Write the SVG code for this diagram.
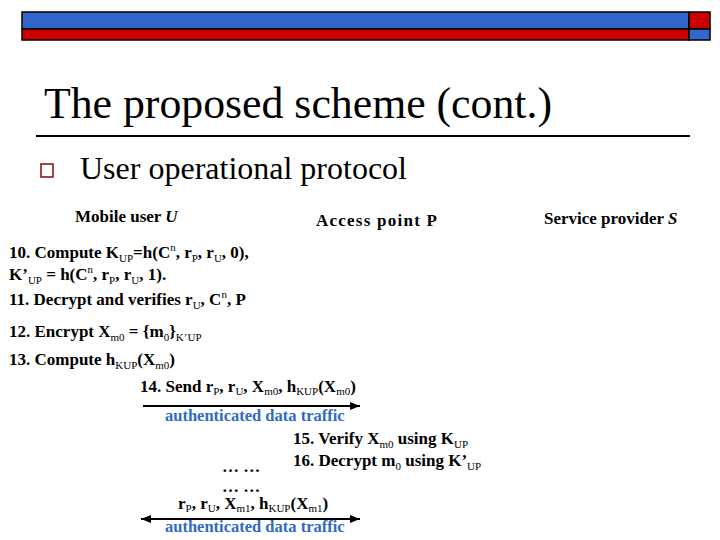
<svg xmlns="http://www.w3.org/2000/svg" width="720" height="540" viewBox="0 0 720 540">
<style>
text{font-family:"Liberation Serif","Times New Roman",serif;fill:#000}
.step{font-size:17px;font-weight:bold}
.head{font-size:17px;font-weight:bold}
.sub{font-size:11px;font-weight:normal}
.blue{fill:#2F6BC4;font-size:16.5px;font-weight:bold}
.bar{stroke:#000;stroke-width:1.5}
.conn{stroke:#000;stroke-width:2;fill:none}
</style>
<defs>
<marker id="ah" markerUnits="userSpaceOnUse" markerWidth="10" markerHeight="8" refX="10" refY="4" orient="auto-start-reverse">
<path d="M0,0 L10,4 L0,8 z" fill="#000"/>
</marker>
</defs>
<rect width="720" height="540" fill="#fff"/>
<g id="header">
<rect class="bar" x="22" y="12" width="667" height="17" fill="#3366CC"/>
<rect class="bar" x="689" y="12" width="21" height="17" fill="#CC0000"/>
<rect class="bar" x="22" y="29" width="667" height="11" fill="#CC0000"/>
<rect class="bar" x="689" y="29" width="21" height="11" fill="#3366CC"/>
</g>
<g id="title">
<text x="44" y="118" font-size="44" textLength="508" lengthAdjust="spacingAndGlyphs">The proposed scheme (cont.)</text>
<line x1="36" y1="136" x2="690" y2="136" stroke="#000" stroke-width="2"/>
</g>
<g id="bullet">
<rect x="41" y="164" width="12" height="13" fill="#fff" stroke="#8B1A1A" stroke-width="1.6"/>
<text x="80" y="179" font-size="32">User operational protocol</text>
</g>
<g id="party-user"><text class="head" x="75" y="222">Mobile user <tspan font-style="italic">U</tspan></text></g>
<g id="party-ap"><text class="head" x="316" y="226" font-size="18" textLength="121" lengthAdjust="spacing">Access point P</text></g>
<g id="party-sp"><text class="head" x="544" y="224">Service provider <tspan font-style="italic">S</tspan></text></g>
<g id="steps-user">
<text class="step" x="9" y="258">10. Compute K<tspan class="sub" dy="4">UP</tspan><tspan dy="-4">=h(C</tspan><tspan class="sub" dy="-7">n</tspan><tspan dy="7">, r</tspan><tspan class="sub" dy="4">P</tspan><tspan dy="-4">, r</tspan><tspan class="sub" dy="4">U</tspan><tspan dy="-4">, 0),</tspan></text>
<text class="step" x="9" y="280">K’<tspan class="sub" dy="4">UP</tspan><tspan dy="-4"> = h(C</tspan><tspan class="sub" dy="-7">n</tspan><tspan dy="7">, r</tspan><tspan class="sub" dy="4">P</tspan><tspan dy="-4">, r</tspan><tspan class="sub" dy="4">U</tspan><tspan dy="-4">, 1).</tspan></text>
<text class="step" x="9" y="305">11. Decrypt and verifies r<tspan class="sub" dy="4">U</tspan><tspan dy="-4">, C</tspan><tspan class="sub" dy="-7">n</tspan><tspan dy="7">, P</tspan></text>
<text class="step" x="9" y="337">12. Encrypt X<tspan class="sub" dy="4">m0</tspan><tspan dy="-4"> = {m</tspan><tspan class="sub" dy="4">0</tspan><tspan dy="-4">}</tspan><tspan class="sub" dy="4">K’UP</tspan></text>
<text class="step" x="9" y="365">13. Compute h<tspan class="sub" dy="4">KUP</tspan><tspan dy="-4">(X</tspan><tspan class="sub" dy="4">m0</tspan><tspan dy="-4">)</tspan></text>
</g>
<g id="msg-14">
<text class="step" x="140" y="392">14. Send r<tspan class="sub" dy="3">P</tspan><tspan dy="-3">, r</tspan><tspan class="sub" dy="3">U</tspan><tspan dy="-3">, X</tspan><tspan class="sub" dy="3">m0</tspan><tspan dy="-3">, h</tspan><tspan class="sub" dy="3">KUP</tspan><tspan dy="-3">(X</tspan><tspan class="sub" dy="3">m0</tspan><tspan dy="-3">)</tspan></text>
<text class="blue" x="165" y="421">authenticated data traffic</text>
</g>
<g id="steps-ap">
<text class="step" x="293" y="444">15. Verify X<tspan class="sub" dy="4">m0</tspan><tspan dy="-4"> using K</tspan><tspan class="sub" dy="4">UP</tspan></text>
<text class="step" x="293" y="466">16. Decrypt m<tspan class="sub" dy="4">0</tspan><tspan dy="-4"> using K’</tspan><tspan class="sub" dy="4">UP</tspan></text>
</g>
<g id="ellipsis">
<text class="step" x="222" y="472">… …</text>
<text class="step" x="222" y="492">… …</text>
</g>
<g id="msg-n">
<text class="step" x="178" y="509">r<tspan class="sub" dy="3">P</tspan><tspan dy="-3">, r</tspan><tspan class="sub" dy="3">U</tspan><tspan dy="-3">, X</tspan><tspan class="sub" dy="3">m1</tspan><tspan dy="-3">, h</tspan><tspan class="sub" dy="3">KUP</tspan><tspan dy="-3">(X</tspan><tspan class="sub" dy="3">m1</tspan><tspan dy="-3">)</tspan></text>
<text class="blue" x="165" y="532">authenticated data traffic</text>
</g>
<g id="connectors">
<line class="conn" x1="143" y1="406" x2="360" y2="406" marker-end="url(#ah)"/>
<line class="conn" x1="141" y1="519" x2="360" y2="519" marker-start="url(#ah)" marker-end="url(#ah)"/>
</g>
</svg>
